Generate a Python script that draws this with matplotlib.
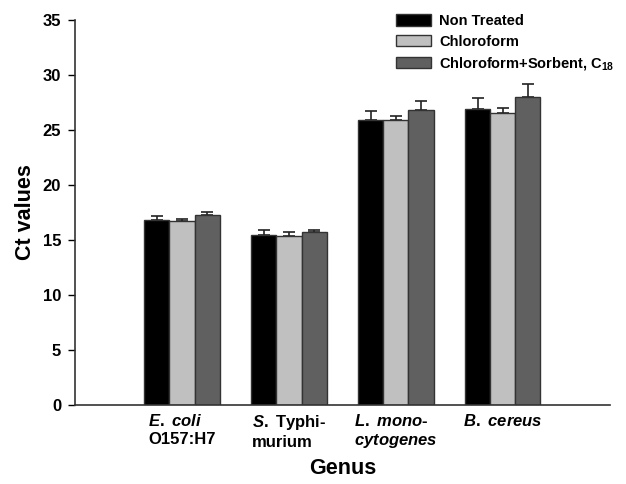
import matplotlib
matplotlib.use("Agg")
import matplotlib.pyplot as plt
import numpy as np

plt.rcParams["font.family"] = ["Liberation Sans", "DejaVu Sans"]
plt.rcParams["font.weight"] = "bold"
plt.rcParams["mathtext.fontset"] = "custom"
plt.rcParams["mathtext.rm"] = "Liberation Sans:bold"
plt.rcParams["mathtext.it"] = "Liberation Sans:italic:bold"
plt.rcParams["mathtext.bf"] = "Liberation Sans:bold"

# genus labels (italic parts via mathtext)
genus = [
    "$\\mathit{E.\\ coli}$\nO157:H7",
    "$\\mathit{S.}$ Typhi-\nmurium",
    "$\\mathit{L.\\ mono}$-\n$\\mathit{cytogenes}$",
    "$\\mathit{B.\\ cereus}$",
]
treatments = ["Non Treated", "Chloroform", "Chloroform+Sorbent, C$_{18}$"]

non_treated = [16.8, 15.45, 25.9, 26.9]
non_treated_err = [0.4, 0.45, 0.8, 1.0]
chloroform = [16.77, 15.4, 25.87, 26.5]
chloroform_err = [0.18, 0.3, 0.35, 0.45]
sorbent = [17.25, 15.75, 26.8, 27.95]
sorbent_err = [0.3, 0.15, 0.85, 1.25]

colors = ["#000000", "#c0c0c0", "#606060"]

fig = plt.figure(figsize=(6.26, 4.84), dpi=100)
ax = fig.add_axes([0.12, 0.163, 0.854, 0.796])

x = np.arange(1, len(genus) + 1)
width = 0.235
series = [(non_treated, non_treated_err), (chloroform, chloroform_err), (sorbent, sorbent_err)]
for i, (vals, errs) in enumerate(series):
    pos = x + (i - 1) * width
    ax.bar(pos, vals, width, color=colors[i], edgecolor="#333333", linewidth=1.0,
           label=treatments[i], zorder=2)
    ax.errorbar(pos, vals, yerr=[np.zeros(len(errs)), errs], fmt="none",
                ecolor="#222222", elinewidth=1.2, capsize=4, capthick=1.2, zorder=1)

ax.set_xlim(0, 5)
ax.set_ylim(0, 35)
ax.set_yticks(np.arange(0, 36, 5))
ax.set_xticks(x)
ax.set_xticklabels(genus, fontsize=12, fontweight="bold", multialignment="left")
ax.tick_params(axis="x", length=0, pad=6)
ax.tick_params(axis="y", direction="out", length=5, width=1, labelsize=12, pad=5)
for lbl in ax.get_yticklabels():
    lbl.set_fontweight("bold")

ax.spines["top"].set_visible(False)
ax.spines["right"].set_visible(False)
ax.spines["left"].set_color("#333333")
ax.spines["bottom"].set_color("#333333")
ax.spines["left"].set_linewidth(1.2)
ax.spines["bottom"].set_linewidth(1.2)

ax.set_ylabel("Ct values", fontsize=15.5, fontweight="bold", labelpad=5)
ax.set_xlabel("Genus", fontsize=15.5, fontweight="bold", labelpad=6)

ax.legend(loc="upper left", bbox_to_anchor=(0.6, 1.015), frameon=False,
          prop={"size": 10.5, "weight": "bold"}, handlelength=2.4, handleheight=0.85,
          handletextpad=0.55, labelspacing=0.45, borderpad=0, borderaxespad=0)

fig.savefig("out.png", dpi=100)
